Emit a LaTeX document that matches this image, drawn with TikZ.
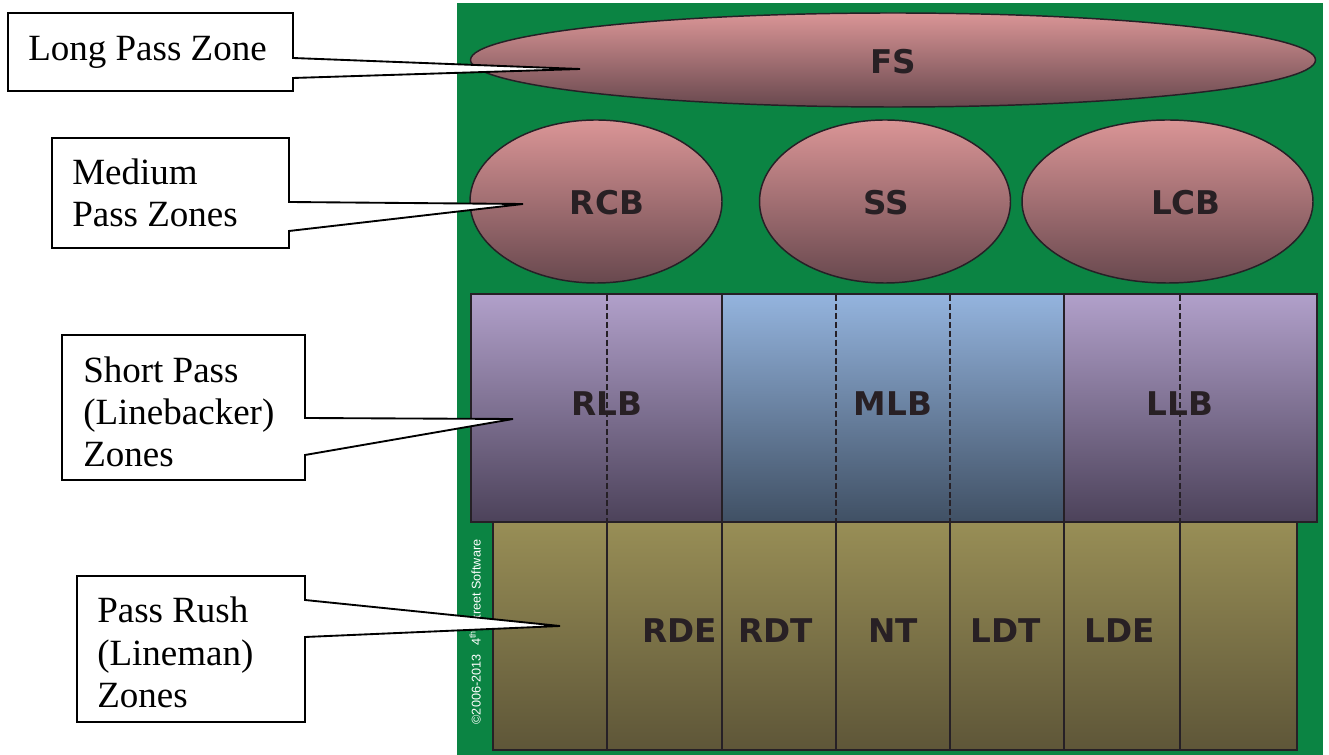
\documentclass[tikz,border=0pt]{standalone}
\usepackage{fontspec}
\setmainfont{Liberation Serif}
\newfontfamily\lblfont{DejaVu Sans}
\newfontfamily\cpfont{Liberation Sans}
\usetikzlibrary{shapes.geometric}
\definecolor{fieldgreen}{RGB}{11,132,67}
\definecolor{pinkT}{RGB}{218,149,150}
\definecolor{pinkM}{RGB}{190,124,126}
\definecolor{pinkB}{RGB}{104,72,78}
\definecolor{purpT}{RGB}{177,160,202}
\definecolor{purpM}{RGB}{146,128,166}
\definecolor{purpB}{RGB}{76,66,90}
\definecolor{blueT}{RGB}{148,180,222}
\definecolor{blueM}{RGB}{116,144,178}
\definecolor{blueB}{RGB}{64,80,100}
\definecolor{oliveT}{RGB}{152,142,86}
\definecolor{oliveM}{RGB}{132,122,74}
\definecolor{oliveB}{RGB}{94,86,56}
\definecolor{edgec}{RGB}{38,32,38}
\definecolor{lbltext}{RGB}{40,32,36}
\begin{document}
\begin{tikzpicture}[x=0.75pt,y=-0.75pt,
  ell/.style={ellipse, draw=edgec, line width=1.1pt, top color=pinkT, middle color=pinkM, bottom color=pinkB, inner sep=0pt},
  lbzone/.style={draw=edgec, line width=1.1pt, top color=purpT, middle color=purpM, bottom color=purpB},
  mlbzone/.style={draw=edgec, line width=1.1pt, top color=blueT, middle color=blueM, bottom color=blueB},
  dlzone/.style={draw=edgec, line width=1.1pt, top color=oliveT, middle color=oliveM, bottom color=oliveB},
  gapline/.style={draw=edgec, line width=0.9pt, dash pattern=on 4.5pt off 2.2pt},
  zonelbl/.style={font=\lblfont\bfseries\fontsize{24.5pt}{24.5pt}\selectfont, text=lbltext, inner sep=0pt},
  callout/.style={draw=black, fill=white, line width=1.4pt, line join=miter},
  calltext/.style={font=\fontsize{27.75pt}{31.5pt}\selectfont, anchor=base west, inner sep=0pt}
]
\useasboundingbox (0,0) rectangle (1329,755);
% field
\fill[fieldgreen] (457,3) rectangle (1323,755);
% ellipses
\node[ell, minimum width=633.75pt, minimum height=70.5pt] (fsE) at (893,60) {};
\node[ell, minimum width=189pt, minimum height=122.25pt] (rcbE) at (596,201.5) {};
\node[ell, minimum width=188.25pt, minimum height=122.25pt] (ssE) at (885,201.5) {};
\node[ell, minimum width=218.25pt, minimum height=122.25pt] (lcbE) at (1167.5,201.5) {};
\node[zonelbl] (fs) at (893,62) {FS};
\node[zonelbl] (rcb) at (607,203) {RCB};
\node[zonelbl] (ss) at (886,203) {SS};
\node[zonelbl] (lcb) at (1186,203) {LCB};
% linemen row
\foreach \a/\b in {493/607,607/722,722/836,836/950,950/1064,1064/1180,1180/1297}
  \path[dlzone] (\a,522) rectangle (\b,750);
% linebacker row
\path[lbzone] (471,294) rectangle (722,522);
\path[mlbzone] (722,294) rectangle (1064,522);
\path[lbzone] (1064,294) rectangle (1317,522);
\foreach \x in {607,836,950,1180}
  \draw[gapline] (\x,295) -- (\x,521);
\node[zonelbl] (rlb) at (607,404) {RLB};
\node[zonelbl] (mlb) at (893,404) {MLB};
\node[zonelbl] (llb) at (1180,404) {LLB};
\node[zonelbl] (rde) at (680,631) {RDE};
\node[zonelbl] (rdt) at (776,631) {RDT};
\node[zonelbl] (nt) at (893,631) {NT};
\node[zonelbl] (ldt) at (1006,631) {LDT};
\node[zonelbl] (lde) at (1120,631) {LDE};
% copyright
\node[rotate=90, text=white, inner sep=0pt, font=\cpfont\fontsize{9.5pt}{9.5pt}\selectfont] (copy) at (475,632) {©2006-2013\hspace{0.7em}4\textsuperscript{th} Street Software};
% callouts
\coordinate (tipA) at (580,69);
\coordinate (tipB) at (523,204);
\coordinate (tipC) at (513,419);
\coordinate (tipD) at (560,626);
\draw[callout] (8,13) -| (293,58) -- (tipA) -- (293,78) |- (8,91) -- cycle;
\draw[callout] (52,138) -| (289,202) -- (tipB) -- (289,231) |- (52,248) -- cycle;
\draw[callout] (62,335) -| (305,418) -- (tipC) -- (305,455) |- (62,480) -- cycle;
\draw[callout] (77,576) -| (305,600) -- (tipD) -- (305,637) |- (77,722) -- cycle;
\node[calltext] (tA) at (28,61) {Long Pass Zone};
\node[calltext] (tB1) at (72,185) {Medium};
\node[calltext] (tB2) at (72,227) {Pass Zones};
\node[calltext] (tC1) at (83,383) {Short Pass};
\node[calltext] (tC2) at (83,425) {(Linebacker)};
\node[calltext] (tC3) at (83,467) {Zones};
\node[calltext] (tD1) at (97,622) {Pass Rush};
\node[calltext] (tD2) at (97,665) {(Lineman)};
\node[calltext] (tD3) at (97,707) {Zones};
\end{tikzpicture}
\end{document}
